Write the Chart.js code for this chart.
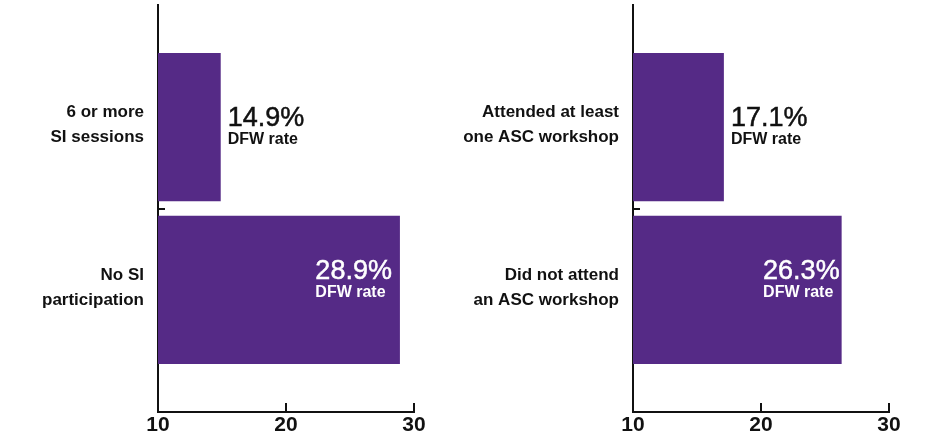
<!DOCTYPE html>
<html>
<head>
<meta charset="utf-8">
<script src="https://cdn.jsdelivr.net/npm/chart.js@4"></script>
<style>
  html, body { margin: 0; padding: 0; background: #fff; }
  #wrap { position: relative; width: 934px; height: 442px; }
  canvas { position: absolute; top: 0; }
  #left { left: 0; }
  #right { left: 440px; }
</style>
</head>
<body>
<div id="wrap">
  <canvas id="left" width="440" height="442"></canvas>
  <canvas id="right" width="494" height="442"></canvas>
</div>
<script>
// Supplemental Instruction panel
const siCategories = [['6 or more', 'SI sessions'], ['No SI', 'participation']];
const siRates = [14.9, 28.9];
// Academic Success Center workshop panel
const ascCategories = [['Attended at least', 'one ASC workshop'], ['Did not attend', 'an ASC workshop']];
const ascRates = [17.1, 26.3];
// Shared value axis
const rateTicks = [10, 20, 30];
const rateCaption = 'DFW rate';

const INK = '#111';
const PURPLE = '#552a86';
const BIG_FONT = '27px "Liberation Sans", Arial, sans-serif';
const SMALL_FONT = 'bold 16px "Liberation Sans", Arial, sans-serif';

// Writes "xx.x%" plus the caption beside or inside each bar
const rateLabels = {
  id: 'rateLabels',
  afterDatasetsDraw(chart, args, opts) {
    const ctx = chart.ctx;
    const meta = chart.getDatasetMeta(0);
    const values = chart.data.datasets[0].data;
    const left = chart.chartArea.left;
    meta.data.forEach((bar, i) => {
      const big = values[i].x.toFixed(1) + '%';
      ctx.save();
      ctx.font = BIG_FONT;
      const wBig = ctx.measureText(big).width;
      ctx.font = SMALL_FONT;
      const wSmall = ctx.measureText(rateCaption).width;
      const blockW = Math.max(wBig, wSmall);
      const barLen = bar.x - Math.max(bar.base, left);
      const inside = barLen > blockW + 20;
      ctx.textAlign = 'left';
      ctx.textBaseline = 'alphabetic';
      let x, yBig, col;
      if (inside) {
        x = bar.x - opts.inset - blockW;
        yBig = bar.y - 10.5;
        col = '#fff';
      } else {
        x = bar.x + 7;
        yBig = bar.y - 1.5;
        col = INK;
      }
      ctx.fillStyle = col;
      ctx.strokeStyle = col;
      ctx.lineWidth = 0.5;
      ctx.font = BIG_FONT;
      ctx.fillText(big, x, yBig);
      ctx.strokeText(big, x, yBig);
      ctx.font = SMALL_FONT;
      ctx.fillText(rateCaption, x, yBig + 18);
      ctx.restore();
    });
  }
};

function makePanel(id, categories, rates, axisWidth, padRight, inset) {
  return new Chart(document.getElementById(id), {
    type: 'bar',
    data: {
      datasets: [{
        data: rates.map((v, i) => ({ x: v, y: i })),
        backgroundColor: PURPLE,
        borderWidth: 0,
        barPercentage: 0.91,
        categoryPercentage: 1
      }]
    },
    options: {
      indexAxis: 'y',
      responsive: false,
      animation: false,
      layout: { padding: { top: 5, right: padRight, left: 0, bottom: 0 } },
      plugins: {
        legend: { display: false },
        tooltip: { enabled: false },
        rateLabels: { inset: inset }
      },
      scales: {
        x: {
          type: 'linear',
          min: rateTicks[0],
          max: rateTicks[rateTicks.length - 1],
          afterBuildTicks: s => { s.ticks = rateTicks.map(v => ({ value: v })); },
          afterFit: s => { s.height = 30; },
          border: { display: true, color: INK, width: 2 },
          grid: { drawOnChartArea: false, tickLength: -9, lineWidth: 2, color: INK },
          ticks: {
            color: INK,
            padding: 10,
            font: { family: '"Liberation Sans", Arial, sans-serif', size: 21, weight: 'bold' }
          }
        },
        y: {
          type: 'linear',
          reverse: true,
          offset: false,
          min: -0.75,
          max: categories.length - 0.25,
          afterBuildTicks: s => { s.ticks = categories.map((c, i) => ({ value: i })); },
          afterFit: s => { s.width = axisWidth; s.paddingTop = 0; s.paddingBottom = 0; },
          border: { display: true, color: INK, width: 2 },
          grid: {
            drawOnChartArea: false,
            offset: true,
            tickLength: -7,
            lineWidth: 2,
            color: c => (c.index >= 1 && c.index < categories.length) ? INK : 'rgba(0,0,0,0)'
          },
          ticks: {
            autoSkip: false,
            color: INK,
            padding: 21,
            labelOffset: -2,
            font: { family: '"Liberation Sans", Arial, sans-serif', size: 17, weight: 'bold', lineHeight: 1.45 },
            callback: (value, index) => categories[index]
          }
        }
      }
    },
    plugins: [rateLabels]
  });
}

makePanel('left', siCategories, siRates, 158, 26, 8);
makePanel('right', ascCategories, ascRates, 193, 45, 2);
</script>
</body>
</html>
